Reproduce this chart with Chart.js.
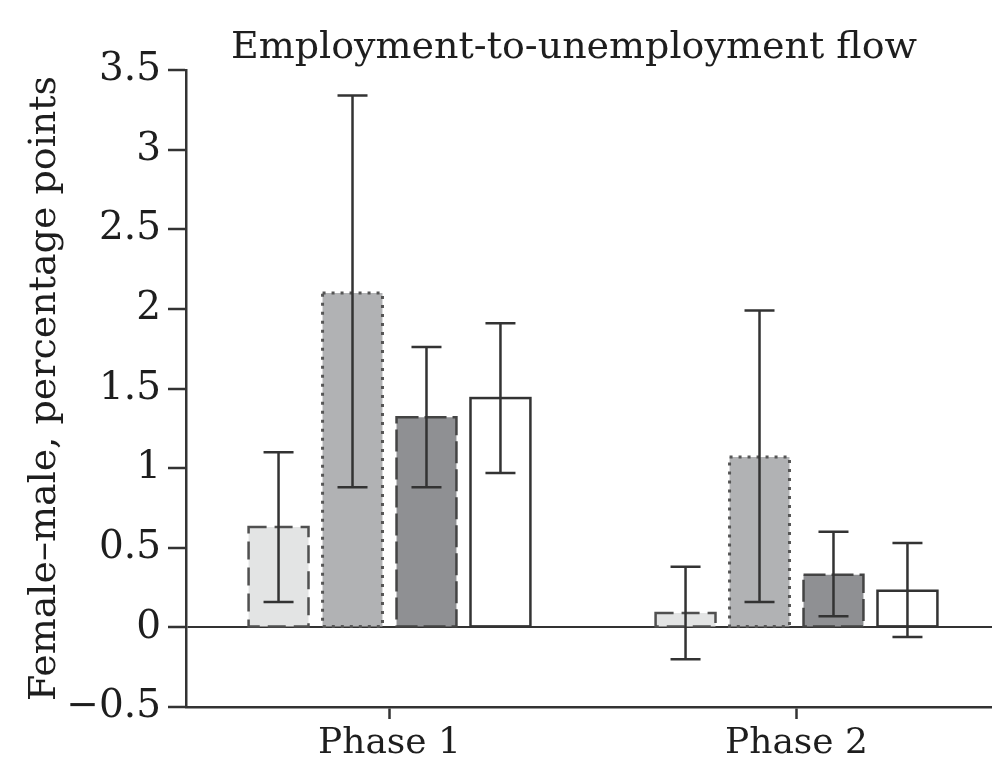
<!DOCTYPE html>
<html>
<head>
<meta charset="utf-8">
<script src="https://cdn.jsdelivr.net/npm/chart.js@4.4.1/dist/chart.umd.min.js"></script>
<style>
  html, body { margin: 0; padding: 0; background: #fff; overflow: hidden; }
  canvas { display: block; }
</style>
</head>
<body>
<canvas id="flowChart" width="1000" height="768"></canvas>
<script>
// Female-minus-male gap in the employment-to-unemployment flow, by phase
const phases = ["Phase 1", "Phase 2"];

const gapA  = [0.63, 0.09];
const lowA  = [0.16, -0.20];
const highA = [1.10, 0.38];

const gapB  = [2.10, 1.07];
const lowB  = [0.88, 0.16];
const highB = [3.34, 1.99];

const gapC  = [1.32, 0.33];
const lowC  = [0.88, 0.07];
const highC = [1.76, 0.60];

const gapD  = [1.44, 0.23];
const lowD  = [0.97, -0.06];
const highD = [1.91, 0.53];

const yTicks = [-0.5, 0, 0.5, 1, 1.5, 2, 2.5, 3, 3.5];

const FONT = "'DejaVu Serif', serif";
const INK  = "#333";
const TEXT = "#1e1e1e";

const series = [
    { label: "A", data: gapA, low: lowA, high: highA, fill: "#e3e4e4", edge: "#505050", dash: [18, 8], lw: 2.5 },
    { label: "B", data: gapB, low: lowB, high: highB, fill: "#b1b2b4", edge: "#555",    dash: [3, 6],  lw: 3 },
    { label: "C", data: gapC, low: lowC, high: highC, fill: "#8f9093", edge: "#444",    dash: [22, 6], lw: 2.5 },
    { label: "D", data: gapD, low: lowD, high: highD, fill: "#ffffff", edge: "#333",    dash: [],      lw: 2.5 }
];

// bar outlines (dashed/dotted) and confidence whiskers
const outlineAndWhiskers = {
    id: "outlineAndWhiskers",
    afterDatasetsDraw(chart) {
        const ctx = chart.ctx;
        const y   = chart.scales.y;
        chart.data.datasets.forEach((ds, di) => {
            const meta = chart.getDatasetMeta(di);
            meta.data.forEach((bar, i) => {
                const p  = bar.getProps(["x", "y", "base", "width"], true);
                const x0 = p.x - p.width / 2;
                ctx.save();
                ctx.strokeStyle = ds.edge;
                ctx.lineWidth   = ds.lw;
                ctx.setLineDash(ds.dash);
                ctx.strokeRect(x0, Math.min(p.y, p.base), p.width, Math.abs(p.base - p.y));
                ctx.restore();

                const yHi = y.getPixelForValue(ds.high[i]);
                const yLo = y.getPixelForValue(ds.low[i]);
                const cap = 15;
                ctx.save();
                ctx.strokeStyle = INK;
                ctx.lineWidth   = 2.5;
                ctx.beginPath();
                ctx.moveTo(p.x, yHi);       ctx.lineTo(p.x, yLo);
                ctx.moveTo(p.x - cap, yHi); ctx.lineTo(p.x + cap, yHi);
                ctx.moveTo(p.x - cap, yLo); ctx.lineTo(p.x + cap, yLo);
                ctx.stroke();
                ctx.restore();
            });
        });
    }
};

const panelTitle = {
    id: "panelTitle",
    afterDraw(chart) {
        const ctx = chart.ctx;
        ctx.save();
        ctx.fillStyle    = TEXT;
        ctx.font         = `38px ${FONT}`;
        ctx.textAlign    = "center";
        ctx.textBaseline = "alphabetic";
        ctx.fillText("Employment-to-unemployment flow", 574, 58);
        ctx.restore();
    }
};

new Chart(document.getElementById("flowChart").getContext("2d"), {
    type: "bar",
    data: {
        labels  : phases,
        datasets: series.map(s => ({
            label          : s.label,
            data           : s.data,
            low            : s.low,
            high           : s.high,
            edge           : s.edge,
            dash           : s.dash,
            lw             : s.lw,
            backgroundColor: s.fill,
            borderWidth    : 0,
            categoryPercentage: 0.727,
            barPercentage     : 0.81
        }))
    },
    options: {
        responsive: false,
        animation : false,
        layout    : { padding: { top: 70, left: 0, right: 0, bottom: 0 } },
        plugins   : { legend: { display: false }, tooltip: { enabled: false } },
        scales: {
            x: {
                afterFit: s => { s.height = 61; },
                grid  : { offset: false, drawOnChartArea: false, tickLength: 12, tickColor: INK, tickWidth: 2.5 },
                border: { color: INK, width: 2.5 },
                ticks : { color: TEXT, padding: 3, font: { family: FONT, size: 36 } }
            },
            y: {
                min: -0.5,
                max: 3.5,
                afterFit: s => { s.width = 186; },
                afterBuildTicks: s => { s.ticks = yTicks.map(v => ({ value: v })); },
                grid: {
                    color    : c => (c.tick && c.tick.value === 0 ? INK : "transparent"),
                    lineWidth: 2,
                    tickColor: INK,
                    tickWidth: 2.5,
                    tickLength: 18
                },
                border: { color: INK, width: 2.5 },
                ticks : {
                    color   : TEXT,
                    padding : 7,
                    font    : { family: FONT, size: 39 },
                    callback: v => String(v).replace("-", "\u2212")
                },
                title: {
                    display: true,
                    text   : "Female\u2013male, percentage points",
                    color  : TEXT,
                    font   : { family: FONT, size: 38 },
                    padding: { top: 22, bottom: 0 }
                }
            }
        }
    },
    plugins: [outlineAndWhiskers, panelTitle]
});
</script>
</body>
</html>
